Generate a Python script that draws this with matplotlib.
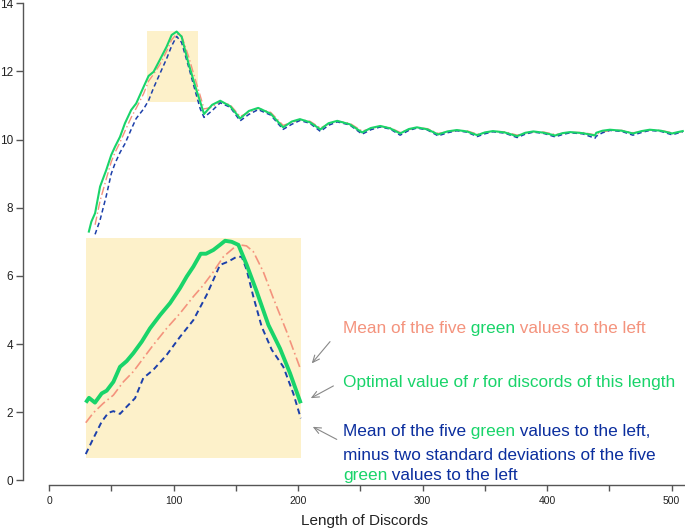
import matplotlib
matplotlib.use("Agg")
import matplotlib.pyplot as plt
from matplotlib.patches import Rectangle

plt.rcParams["font.family"] = ["Liberation Sans", "DejaVu Sans"]

GREEN = "#19D46A"
SALMON = "#F4937D"
BLUE = "#1C3FAA"
BLUE_TXT = "#0B2E9E"
BOX = "#FDF1CA"
AXC = "#555555"
NAN = float("nan")

# main curve
length = [32, 34, 37, 41, 46, 50, 53, 57, 61, 66, 70, 76, 80, 84, 89, 94.5,
          98.5, 102.5, 106.5, 112, 118, 121.5,
          124.5, 131, 137.5, 145.5, 153.5, 160.5, 168, 178, 188, 195, 201.5,
          209.5, 218, 224.5, 231.5, 241.5, 251.5, 258.5, 266, 274, 282, 289,
          295.5, 304, 312.5, 320, 327.5, 335.5, 344, 350, 356.5, 366, 376,
          382.5, 389, 397.5, 406.5, 412.5, 418.5, 428.5, 438.5, 439.5, 444.5,
          450.5, 460, 469, 476, 482.5, 491.5, 500.5, 505, 509]
r_opt = [7.30, 7.59, 7.84, 8.62, 9.11, 9.55, 9.79, 10.08, 10.48, 10.87, 11.06,
         11.55, 11.87, 11.99, 12.34, 12.73, 13.07, 13.17, 13.02, 12.24, 11.50,
         11.10,
         10.75, 11.02, 11.14, 10.98, 10.62, 10.84, 10.93, 10.76, 10.36, 10.53,
         10.60, 10.51, 10.30, 10.48, 10.55, 10.45, 10.21, 10.34, 10.40, 10.33,
         10.18, 10.31, 10.36, 10.30, 10.15, 10.24, 10.28, 10.24, 10.13, 10.21,
         10.25, 10.21, 10.10, 10.20, 10.24, 10.20, 10.12, 10.19, 10.22, 10.19,
         10.12, 10.20, 10.26, 10.29, 10.26, 10.18, 10.25, 10.29, 10.26, 10.18,
         10.22, 10.25]
r_mean = [NAN, NAN, 7.50, 8.20, 8.85, 9.35, 9.62, 9.92, 10.25, 10.65, 10.92,
          11.35, 11.72, 11.92, 12.20, 12.60, 12.93, 13.10, 13.05, 12.45, 11.70,
          11.28,
          10.90, 10.95, 11.12, 11.02, 10.68, 10.80, 10.92, 10.80, 10.42, 10.50,
          10.59, 10.54, 10.34, 10.46, 10.54, 10.48, 10.25, 10.32, 10.39, 10.35,
          10.21, 10.29, 10.35, 10.32, 10.18, 10.23, 10.27, 10.26, 10.16, 10.20,
          10.24, 10.23, 10.13, 10.19, 10.23, 10.22, 10.15, 10.18, 10.21, 10.21,
          10.14, 10.16, 10.22, 10.27, 10.27, 10.20, 10.23, 10.28, 10.27, 10.20,
          10.21, 10.24]
r_low = [NAN, NAN, 7.22, 7.64, 8.35, 9.00, 9.30, 9.62, 9.88, 10.30, 10.62,
         10.90, 11.15, 11.52, 11.93, 12.38, 12.75, 13.03, 12.85, 12.15, 11.35,
         10.90,
         10.65, 10.85, 11.08, 10.95, 10.55, 10.74, 10.88, 10.72, 10.30, 10.45,
         10.56, 10.48, 10.24, 10.42, 10.52, 10.43, 10.16, 10.29, 10.37, 10.31,
         10.13, 10.27, 10.34, 10.28, 10.11, 10.20, 10.26, 10.22, 10.09, 10.17,
         10.23, 10.19, 10.06, 10.16, 10.22, 10.18, 10.08, 10.15, 10.20, 10.17,
         10.04, 10.10, 10.20, 10.27, 10.24, 10.13, 10.21, 10.27, 10.24, 10.14,
         10.19, 10.23]

# magnified view, drawn in the main axes' units
zoom_opt_x = [29.5, 32.1, 36.9, 42.3, 46.3, 51.7, 57.0, 62.4, 67.7, 74.5, 81.1,
              89.2, 97.2, 105.2, 110.6, 115.9, 121.8, 126.1, 132.0, 137.3,
              141.4, 146.7, 152.1, 158.8, 166.8, 176.2, 185.5, 193.6, 202.2]
zoom_opt_y = [2.28, 2.42, 2.28, 2.55, 2.63, 2.89, 3.33, 3.50, 3.73, 4.07, 4.46,
              4.85, 5.20, 5.64, 5.98, 6.27, 6.65, 6.65, 6.76, 6.91, 7.03, 7.00,
              6.91, 6.32, 5.54, 4.56, 3.87, 3.14, 2.26]
zoom_mean_x = [29.5, 35.6, 43.6, 51.7, 59.7, 67.7, 75.7, 83.7, 94.5, 105.2,
               115.9, 124.0, 132.0, 140.0, 148.0, 153.2, 158.6, 164.1, 172.1,
               180.2, 190.9, 202.2]
zoom_mean_y = [1.69, 1.98, 2.26, 2.50, 2.89, 3.19, 3.58, 3.97, 4.46, 4.90, 5.39,
               5.73, 6.12, 6.56, 6.81, 6.91, 6.88, 6.71, 6.12, 5.34, 4.36, 3.24]
zoom_low_x = [29.5, 35.6, 42.3, 47.6, 51.7, 57.0, 62.4, 69.1, 75.7, 83.7, 94.5,
              105.2, 115.9, 126.6, 137.3, 144.0, 150.7, 154.8, 158.8, 164.1,
              170.8, 178.9, 188.2, 196.2, 202.2]
zoom_low_y = [0.77, 1.23, 1.72, 1.98, 2.03, 1.95, 2.16, 2.41, 3.00, 3.24, 3.68,
              4.21, 4.70, 5.44, 6.32, 6.42, 6.56, 6.56, 6.17, 5.39, 4.51, 3.83,
              3.33, 2.55, 1.82]

fig = plt.figure(figsize=(6.85, 5.30), dpi=100)
ax = fig.add_axes([23 / 685, 45 / 530, 662 / 685, 485 / 530])
ax.set_xlim(-20.9, 510.8)
ax.set_ylim(-0.138, 14.097)

# highlighted region and its magnified copy
ax.add_patch(Rectangle((78.5, 11.11), 41.4, 2.08, facecolor=BOX, edgecolor="none", zorder=0))
ax.add_patch(Rectangle((29.5, 0.645), 172.7, 6.455, facecolor=BOX, edgecolor="none", zorder=0))

ax.plot(length, r_mean, color=SALMON, lw=1.0, dashes=(6, 2, 1, 2), zorder=2)
ax.plot(length, r_low, color=BLUE, lw=1.1, dashes=(3, 2), zorder=3)
ax.plot(length, r_opt, color=GREEN, lw=1.5, zorder=4)

ax.plot(zoom_mean_x, zoom_mean_y, color=SALMON, lw=1.2, dashes=(6, 2, 1, 2), zorder=2)
ax.plot(zoom_low_x, zoom_low_y, color=BLUE, lw=1.4, dashes=(3, 2), zorder=3)
ax.plot(zoom_opt_x, zoom_opt_y, color=GREEN, lw=2.8, solid_capstyle="butt", zorder=4)

for side in ("top", "right"):
    ax.spines[side].set_visible(False)
for side in ("left", "bottom"):
    ax.spines[side].set_color(AXC)
    ax.spines[side].set_linewidth(1.0)
ax.spines["left"].set_bounds(0, 14)
ax.spines["bottom"].set_bounds(0, 520)

ax.set_yticks(range(0, 15, 2))
ax.tick_params(axis="y", colors=AXC, labelcolor="#222222", labelsize=8.5, length=4.8, width=1.0, pad=2.2)
ax.set_xticks(range(0, 501, 50))
ax.set_xticklabels([str(v) if v % 100 == 0 else "" for v in range(0, 501, 50)])
ax.tick_params(axis="x", colors=AXC, labelcolor="#222222", labelsize=7.5, length=4, width=1.0, pad=4)

fig.text(364.5 / 685, 1 - 521 / 530, "Length of Discords", ha="center", va="center",
         fontsize=11, color="#222222")


def colored_line(x, y, pieces, size=12.4):
    prev = None
    for txt, col, style in pieces:
        if prev is None:
            prev = ax.text(x, y, txt, color=col, style=style, fontsize=size,
                           ha="left", va="center")
        else:
            prev = ax.annotate(txt, xy=(1, 0), xycoords=prev, color=col, style=style,
                               fontsize=size, ha="left", va="bottom")


colored_line(236.1, 4.47, [("Mean of the five", SALMON, "normal"),
                           (" green", GREEN, "normal"),
                           (" values to the left", SALMON, "normal")])
colored_line(236.1, 2.86, [("Optimal value of", GREEN, "normal"),
                           (" r", GREEN, "italic"),
                           (" for discords of this length", GREEN, "normal")])
colored_line(236.1, 1.42, [("Mean of the five", BLUE_TXT, "normal"),
                           (" green", GREEN, "normal"),
                           (" values to the left,", BLUE_TXT, "normal")])
colored_line(236.1, 0.74, [("minus two standard deviations of the five", BLUE_TXT, "normal")])
colored_line(236.1, 0.13, [("green", GREEN, "normal"),
                           (" values to the left", BLUE_TXT, "normal")])

arrow = dict(arrowstyle="->,head_length=0.5,head_width=0.22", color="#888888", lw=0.8,
             shrinkA=0, shrinkB=0)
ax.annotate("", xy=(211.0, 3.43), xytext=(225.7, 4.07), arrowprops=arrow)
ax.annotate("", xy=(210.2, 2.41), xytext=(228.4, 2.77), arrowprops=arrow)
ax.annotate("", xy=(211.8, 1.57), xytext=(231.1, 1.20), arrowprops=arrow)

fig.savefig("out.png", dpi=100)
